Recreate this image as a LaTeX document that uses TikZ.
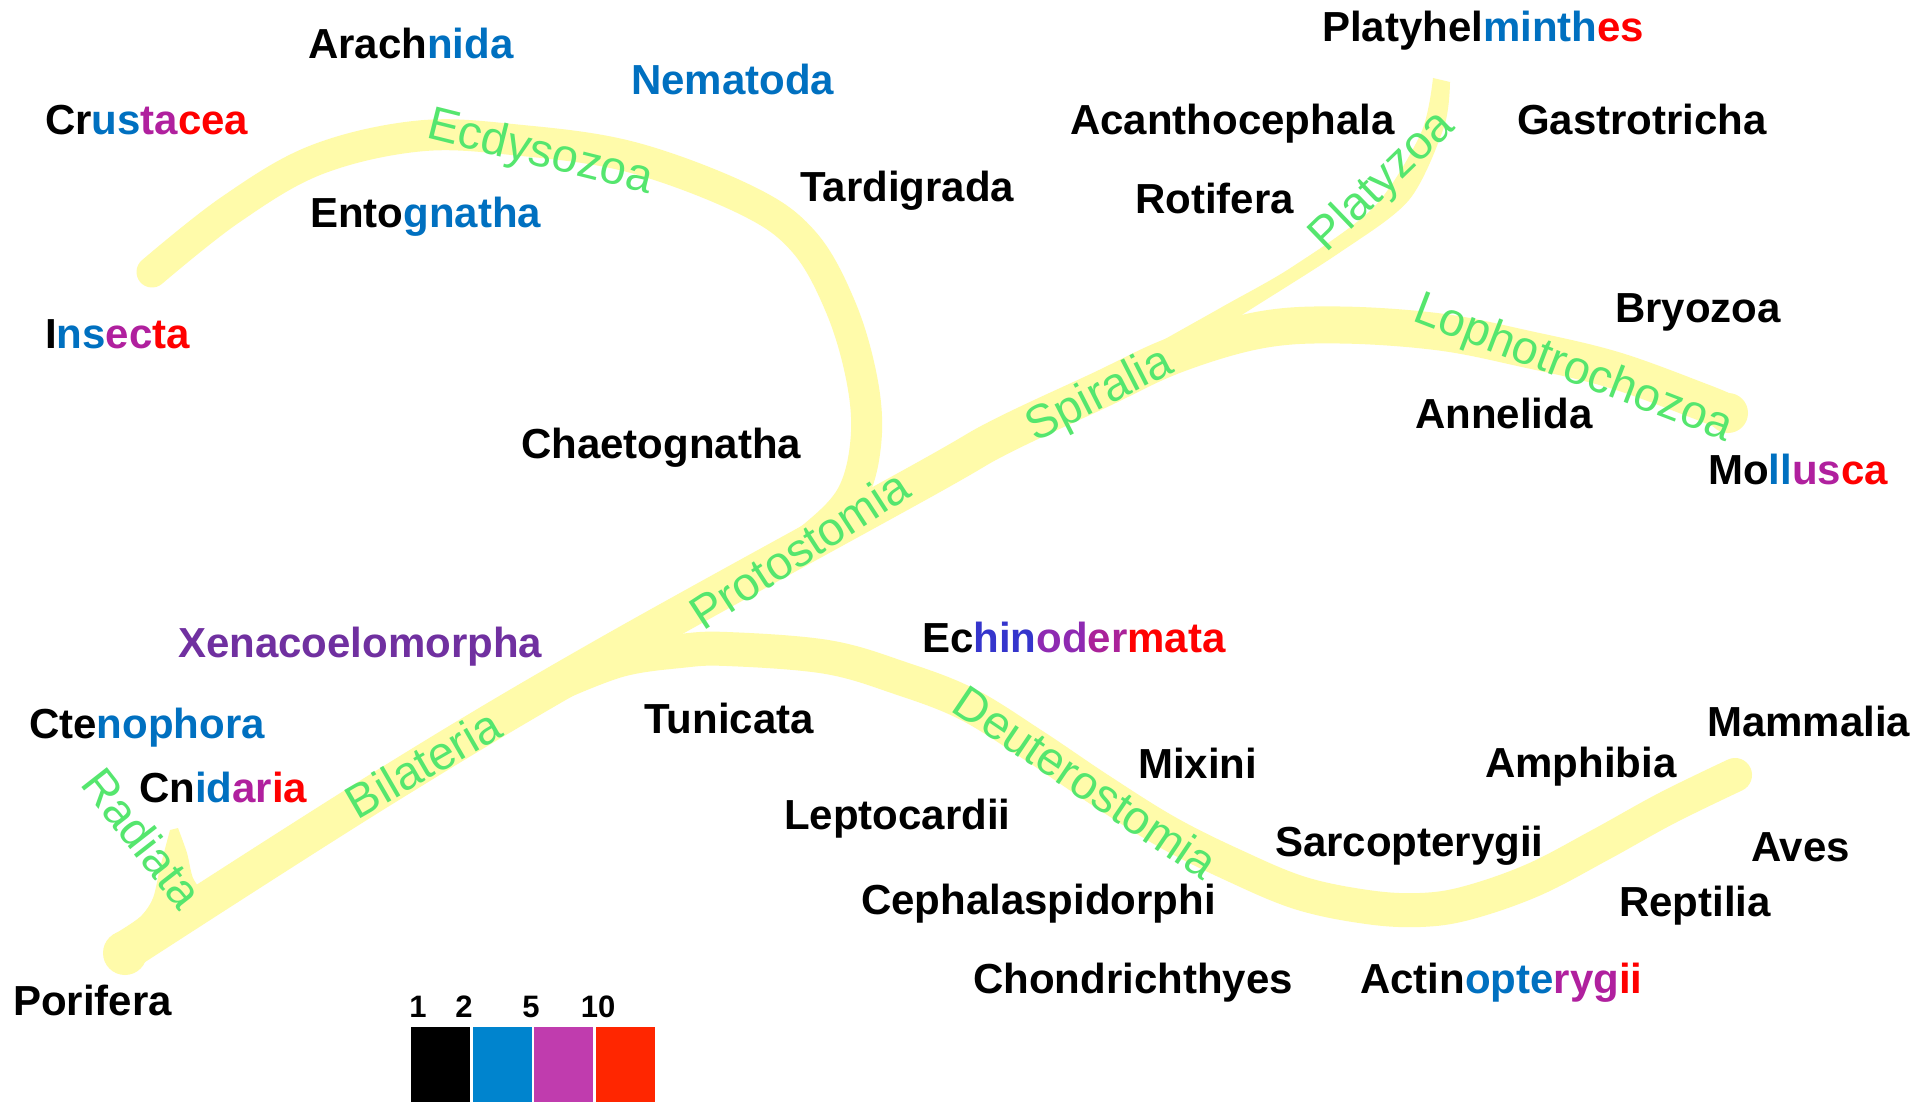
\documentclass[tikz,border=0pt]{standalone}
\usepackage{fontspec}
\setmainfont{Liberation Sans}
\definecolor{tb}{HTML}{0070C0}
\definecolor{tp}{HTML}{B0209E}
\definecolor{tr}{HTML}{FF0000}
\definecolor{xp}{HTML}{7030A0}
\definecolor{eb}{HTML}{3535CC}
\definecolor{epa}{HTML}{8E2AB2}
\definecolor{epb}{HTML}{AA2299}
\definecolor{lb}{HTML}{0084CE}
\definecolor{lp}{HTML}{C03CAE}
\definecolor{lr}{HTML}{FF2600}
\definecolor{bandc}{HTML}{FFFBAA}
\definecolor{gr}{HTML}{55E66E}
\begin{document}
\begin{tikzpicture}[x=1pt,y=-1pt,
  lab/.style={font=\fontsize{42}{50}\selectfont\bfseries, inner sep=0pt, anchor=base west},
  grn/.style={font=\fontsize{47}{56}\selectfont, text=gr, inner sep=0pt},
  num/.style={font=\fontsize{31}{36}\selectfont\bfseries, inner sep=0pt, anchor=base},
  band/.style={draw=bandc, line cap=round, line join=round}]
\useasboundingbox (0,0) rectangle (1917,1102);
\fill[white] (0,0) rectangle (1917,1102);
% ---- bands ----
% trunk + Lophotrochozoa
\draw[band, line width=37pt] plot[smooth, tension=0.6] coordinates {(125,953) (380,790) (600,659) (920,482) (1000,437) (1100,390) (1175,355) (1260,330) (1340,325) (1440,332) (1526,349) (1614,370) (1702,402) (1728,413)};
\fill[bandc] (125,953) circle[radius=22pt];
\fill[bandc] (1728,413) circle[radius=20pt];
% Platyzoa
\fill[bandc] plot[smooth] coordinates {(1120,368) (1146,350) (1222,307) (1292,267) (1374,207) (1421,133) (1433,78)} -- (1450,82) -- plot[smooth] coordinates {(1450,82) (1444,127) (1409,200) (1339,253) (1234,320) (1200,345)} -- cycle;
% Radiata
\fill[bandc] plot[smooth] coordinates {(113,935) (140,917) (153,898) (160,868) (170,830)} -- (178,828) -- plot[smooth] coordinates {(178,828) (187,853) (193,878) (205,895)} -- (150,945) -- cycle;
% Ecdysozoa
\draw[band, line width=31pt] plot[smooth, tension=0.6] coordinates {(152,272) (230,210) (316,160) (419,136) (517,140) (631,157) (746,200) (804,242) (841,308) (862,380) (866,440) (852,495) (815,535) (770,565)};
% Deuterostomia
\draw[band, line width=34pt] plot[smooth, tension=0.6] coordinates {(560,683) (620,660) (680,651) (727,649) (827,657) (900,678) (967,704) (1033,745) (1100,790) (1167,832) (1233,865) (1300,893) (1367,907) (1420,910) (1467,903) (1533,880) (1600,845) (1667,808) (1735,775)};
% ---- green clade labels ----
\node[grn, rotate=-14] (ecd) at (540,154) {Ecdysozoa};
\node[grn, rotate=33] (pro) at (799,549) {Protostomia};
\node[grn, rotate=30] (bil) at (423,763) {Bilateria};
\node[grn, rotate=-52] (rad) at (143,838) {Radiata};
\node[grn, rotate=27] (spi) at (1100,396) {Spiralia};
\node[grn, rotate=44] (pla) at (1383,182) {Platyzoa};
\node[grn, rotate=-21] (lop) at (1573,370) {Lophotrochozoa};
\node[grn, rotate=-34] (deu) at (1086,782) {Deuterostomia};
% ---- taxa ----
\node[lab] (arachnida) at (308,59) {Arach\textcolor{tb}{nida}};
\node[lab, text=tb] (nematoda) at (631,95) {Nematoda};
\node[lab] (crustacea) at (45,135) {Cr\textcolor{tb}{us}\textcolor{tp}{ta}\textcolor{tr}{cea}};
\node[lab] (entognatha) at (310,228) {Ento\textcolor{tb}{gnatha}};
\node[lab] (tardigrada) at (800,202) {Tardigrada};
\node[lab] (insecta) at (45,348) {I\textcolor{tb}{ns}\textcolor{tp}{ec}\textcolor{tr}{ta}};
\node[lab] (platyhel) at (1322,42) {Platyhel\textcolor{tb}{minth}\textcolor{tr}{es}};
\node[lab] (acantho) at (1070,135) {Acanthocephala};
\node[lab] (gastro) at (1517,135) {Gastrotricha};
\node[lab] (rotifera) at (1135,214) {Rotifera};
\node[lab] (bryozoa) at (1615,322) {Bryozoa};
\node[lab] (annelida) at (1415,428) {Annelida};
\node[lab] (mollusca) at (1708,484) {Mo\textcolor{tb}{ll}\textcolor{tp}{us}\textcolor{tr}{ca}};
\node[lab] (chaeto) at (521,458) {Chaetognatha};
\node[lab, text=xp] (xenaco) at (178,657) {Xenacoelomorpha};
\node[lab] (echino) at (922,652) {Ec\textcolor{eb}{hin}\textcolor{epa}{od}\textcolor{epb}{er}\textcolor{tr}{mata}};
\node[lab] (cteno) at (29,738) {Cte\textcolor{tb}{nophora}};
\node[lab] (tunicata) at (644,733) {Tunicata};
\node[lab] (cnidaria) at (139,802) {Cn\textcolor{tb}{id}\textcolor{tp}{ar}\textcolor{tr}{ia}};
\node[lab] (mixini) at (1138,778) {Mixini};
\node[lab] (amphibia) at (1485,777) {Amphibia};
\node[lab] (mammalia) at (1707,736) {Mammalia};
\node[lab] (lepto) at (784,829) {Leptocardii};
\node[lab] (sarco) at (1275,856) {Sarcopterygii};
\node[lab] (aves) at (1751,861) {Aves};
\node[lab] (cephal) at (861,914) {Cephalaspidorphi};
\node[lab] (reptilia) at (1619,916) {Reptilia};
\node[lab] (chondr) at (973,993) {Chondrichthyes};
\node[lab] (actino) at (1360,993) {Actin\textcolor{tb}{opte}\textcolor{tp}{ryg}\textcolor{tr}{ii}};
\node[lab] (porifera) at (13,1015) {Porifera};
% ---- legend ----
\fill[black] (411,1027) rectangle (470,1102);
\fill[lb] (473,1027) rectangle (532,1102);
\fill[lp] (534,1027) rectangle (593,1102);
\fill[lr] (596,1027) rectangle (655,1102);
\node[num] (n1) at (418,1017) {1};
\node[num] (n2) at (464,1017) {2};
\node[num] (n5) at (531,1017) {5};
\node[num] (n10) at (598,1017) {10};
\end{tikzpicture}
\end{document}
